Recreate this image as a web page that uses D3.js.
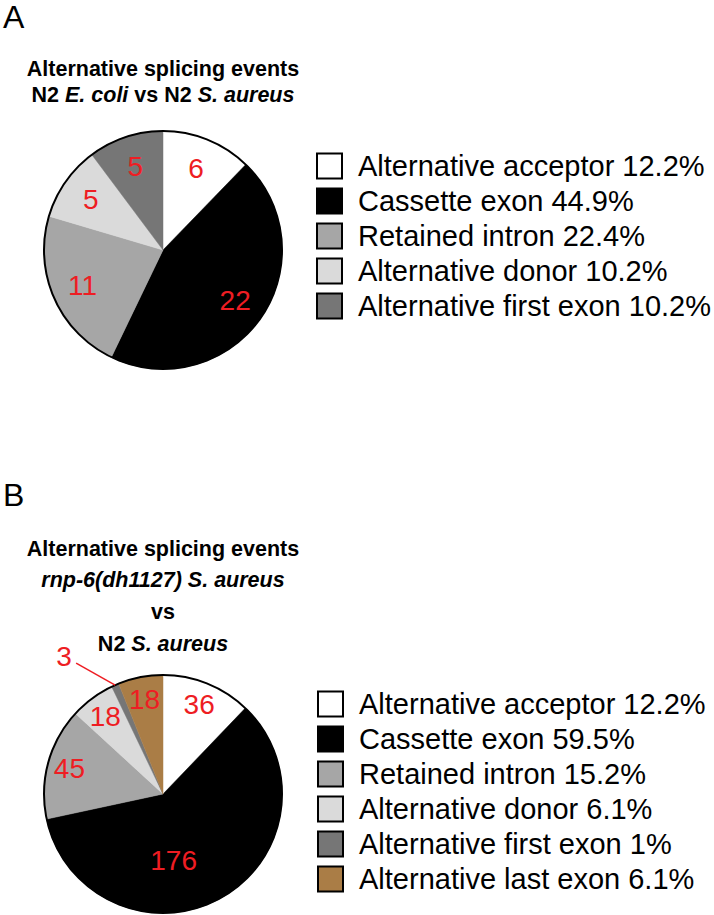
<!DOCTYPE html>
<html>
<head>
<meta charset="utf-8">
<script src="https://cdn.jsdelivr.net/npm/d3@7"></script>
<style>
  html, body { margin: 0; padding: 0; background: #fff; }
  svg { display: block; font-family: "Liberation Sans", Arial, sans-serif; }
</style>
</head>
<body>
<svg id="chart" width="714" height="915"></svg>
<script>
// ---- Data ----
const categoriesA = ["Alternative acceptor", "Cassette exon", "Retained intron", "Alternative donor", "Alternative first exon"];
const countsA = [6, 22, 11, 5, 5];
const percentLabelsA = ["12.2%", "44.9%", "22.4%", "10.2%", "10.2%"];

const categoriesB = ["Alternative acceptor", "Cassette exon", "Retained intron", "Alternative donor", "Alternative first exon", "Alternative last exon"];
const countsB = [36, 176, 45, 18, 3, 18];
const percentLabelsB = ["12.2%", "59.5%", "15.2%", "6.1%", "1%", "6.1%"];

const sliceColors = ["#ffffff", "#000000", "#a6a6a6", "#dadada", "#767676", "#aa7d46"];

// ---- Drawing ----
const svg = d3.select("#chart");
const R = 119;
const labelRed = "#ee1d23";
const labelSize = 28;

const color = d3.scaleOrdinal().domain(categoriesB).range(sliceColors);

function drawPanel(opts) {
  const { cats, counts, pcts, cx, cy, labelR, legendX, legendY0, titleLines, letter, letterY, calloutIdx, labelOverride } = opts;
  const data = cats.map((c, i) => ({ cat: c, value: counts[i], pct: pcts[i], i }));

  // panel letter
  svg.append("text").attr("x", 3).attr("y", letterY)
    .attr("font-size", 32).attr("fill", "#000").text(letter);

  // title
  const title = svg.append("text").attr("text-anchor", "middle")
    .attr("font-size", 21.5).attr("font-weight", "bold").attr("fill", "#000");
  titleLines.forEach(line => {
    const t = title.append("tspan").attr("x", cx).attr("y", line.y);
    line.parts.forEach(p => {
      t.append("tspan").attr("font-style", p.italic ? "italic" : "normal").text(p.text);
    });
  });

  const pie = d3.pie().sort(null).value(d => d.value).startAngle(0).endAngle(2 * Math.PI);
  const arcs = pie(data);
  const arc = d3.arc().innerRadius(0).outerRadius(R);
  const labelArc = d3.arc().innerRadius(labelR).outerRadius(labelR);

  const g = svg.append("g").attr("transform", `translate(${cx},${cy})`);
  g.selectAll("path.slice").data(arcs).enter().append("path")
    .attr("class", "slice")
    .attr("d", arc)
    .attr("fill", d => color(d.data.cat))
    .attr("stroke", d => color(d.data.cat))
    .attr("stroke-width", 0.5);

  g.append("circle").attr("r", R).attr("fill", "none")
    .attr("stroke", "#000").attr("stroke-width", 2);

  arcs.forEach((d, k) => {
    if (k === calloutIdx) {
      const mid = (d.startAngle + d.endAngle) / 2;
      const px = Math.sin(mid) * R, py = -Math.cos(mid) * R;
      const ex = px - 39, ey = py - 22;
      g.append("line").attr("x1", px).attr("y1", py).attr("x2", ex).attr("y2", ey)
        .attr("stroke", labelRed).attr("stroke-width", 1.5);
      g.append("text").attr("x", ex - 12).attr("y", ey - 7).attr("dy", "0.35em")
        .attr("text-anchor", "middle").attr("font-size", labelSize).attr("fill", labelRed)
        .text(d.data.value);
      return;
    }
    let [lx, ly] = labelArc.centroid(d);
    if (labelOverride && labelOverride[k]) {
      const o = labelOverride[k];
      const a = (d.startAngle + d.endAngle) / 2 + o.da;
      lx = Math.sin(a) * o.r; ly = -Math.cos(a) * o.r;
    }
    g.append("text").attr("x", lx).attr("y", ly).attr("dy", "0.35em")
      .attr("text-anchor", "middle").attr("font-size", labelSize).attr("fill", labelRed)
      .text(d.data.value);
  });

  // legend
  const rowH = 35;
  const lg = svg.append("g");
  data.forEach((d, i) => {
    const y = legendY0 + i * rowH;
    lg.append("rect").attr("x", legendX).attr("y", y - 12.5).attr("width", 25).attr("height", 25)
      .attr("fill", color(d.cat)).attr("stroke", "#000").attr("stroke-width", 2);
    lg.append("text").attr("x", legendX + 41).attr("y", y).attr("dy", "0.36em")
      .attr("font-size", 29).attr("fill", "#000")
      .text(`${d.cat} ${d.pct}`);
  });
}

drawPanel({
  cats: categoriesA, counts: countsA, pcts: percentLabelsA,
  cx: 163, cy: 250, labelR: 88,
  legendX: 317, legendY0: 166,
  letter: "A", letterY: 28,
  titleLines: [
    { y: 76, parts: [{ text: "Alternative splicing events" }] },
    { y: 102, parts: [{ text: "N2 " }, { text: "E. coli", italic: true }, { text: " vs N2 " }, { text: "S. aureus", italic: true }] }
  ],
  calloutIdx: -1
});

drawPanel({
  cats: categoriesB, counts: countsB, pcts: percentLabelsB,
  cx: 163, cy: 794, labelR: 97,
  legendX: 318, legendY0: 704,
  letter: "B", letterY: 506,
  titleLines: [
    { y: 556, parts: [{ text: "Alternative splicing events" }] },
    { y: 587, parts: [{ text: "rnp-6(dh1127) S. aureus", italic: true }] },
    { y: 619, parts: [{ text: "vs" }] },
    { y: 651, parts: [{ text: "N2 " }, { text: "S. aureus", italic: true }] }
  ],
  calloutIdx: 4,
  labelOverride: { 1: { r: 67, da: 0.35 } }
});
</script>
</body>
</html>
